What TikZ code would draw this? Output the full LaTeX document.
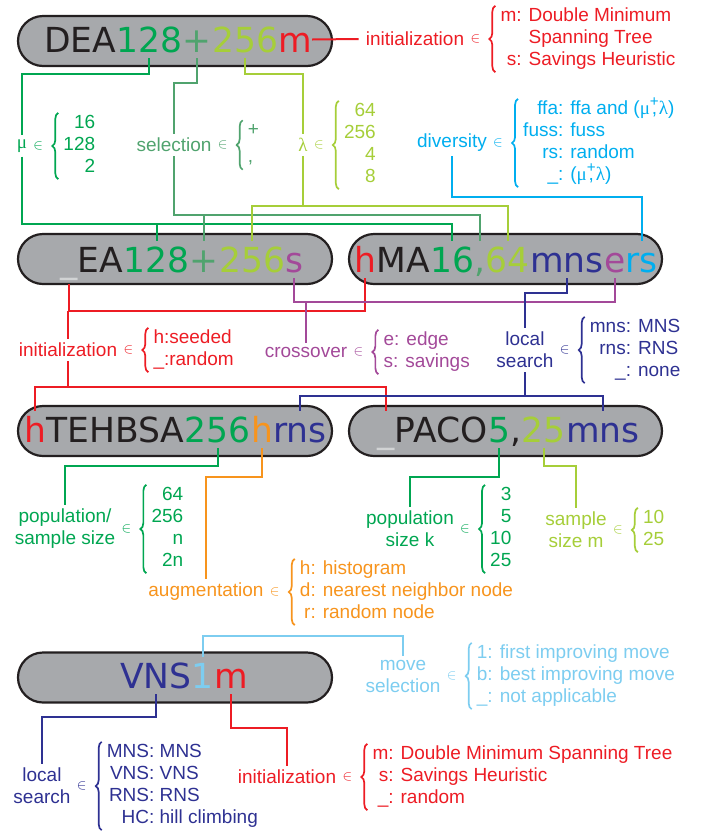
\documentclass[tikz,border=0pt]{standalone}
\usepackage{fontspec}
\usepackage{graphicx}
\usetikzlibrary{decorations.pathreplacing}
\setmainfont{Liberation Sans}
\newfontfamily\boxfont{DejaVu Sans}
\newfontfamily\grk{Liberation Serif}
\newcommand\bfont{\boxfont\fontsize{34.5}{40}\selectfont}
\newcommand\lfont{\fontsize{19}{22}\selectfont}
\newcommand\pcm{\ooalign{\hfil,\hfil\cr\hfil\raisebox{0.42em}{\scalebox{0.8}{+}}\hfil\cr}}
% #1 word node name, #2 colour, #3 column spec, #4 rows
\newcommand\opts[4]{%
  \node[inn, #2] (#1in) at ([xshift=4pt]#1.east) {$\in$};
  \node[items, #2] (#1it) at ([xshift=20pt]#1in.east) {\begin{tabular}{@{}#3@{}}#4\end{tabular}};
  \draw[br, #2] ([xshift=-5pt]#1it.south west) -- ([xshift=-5pt]#1it.north west);}
\definecolor{ink}{RGB}{35,31,32}
\definecolor{cG}{RGB}{0,166,81}
\definecolor{cT}{RGB}{80,163,110}
\definecolor{cL}{RGB}{166,206,57}
\definecolor{cR}{RGB}{237,28,36}
\definecolor{cP}{RGB}{163,73,153}
\definecolor{cN}{RGB}{46,49,146}
\definecolor{cC}{RGB}{0,174,239}
\definecolor{cO}{RGB}{247,148,29}
\definecolor{cB}{RGB}{125,205,240}
\definecolor{ulc}{RGB}{209,211,212}
\definecolor{boxfill}{RGB}{167,169,172}
\begin{document}
\begin{tikzpicture}[x=1pt,y=-1pt,
  capsule/.style={draw=ink, fill=boxfill, line width=2.2pt, rounded corners=25pt,
    minimum width=314pt, minimum height=50pt, inner sep=0pt},
  seg/.style={anchor=base west, inner sep=0pt, text height=25pt, text depth=0pt, font=\bfont},
  lab/.style={font=\lfont, inner xsep=2pt, inner ysep=4pt, align=center},
  inn/.style={anchor=west, inner sep=0pt, font=\fontsize{15}{15}\selectfont},
  items/.style={anchor=west, inner sep=0pt, font=\lfont},
  br/.style={decorate, decoration={brace, amplitude=6pt}, line width=1.7pt},
  cn/.style={line width=2pt}]
\useasboundingbox (0,0) rectangle (709,831);

% boxes
\node[capsule] (b1) at (175,41) {};
\node[capsule] (b2) at (175,259) {};
\node[capsule, minimum width=313pt] (b3) at (505.5,259) {};
\node[capsule] (b4) at (175,431) {};
\node[capsule, minimum width=313pt] (b5) at (505.5,431) {};
\node[capsule] (b6) at (175,677.5) {};

% row 1 text
\node[seg, ink] (dD) at (44,52) {DEA};
\node[seg, cG] (d128) at (dD.base east) {128};
\node[seg, cT] (dplus) at (d128.base east) {+};
\node[seg, cL] (d256) at (dplus.base east) {256};
\node[seg, cR] (dm) at (d256.base east) {m};

% row 2 text
\node[seg, ulc] (eus) at (60,272) {\_};
\node[seg, ink] (eEA) at (eus.base east) {EA};
\node[seg, cG] (e128) at (eEA.base east) {128};
\node[seg, cT] (eplus) at (e128.base east) {+};
\node[seg, cL] (e256) at (eplus.base east) {256};
\node[seg, cP] (es) at (e256.base east) {s};

\node[seg, cR] (hh) at (354,272) {h};
\node[seg, ink] (hMA) at (hh.base east) {MA};
\node[seg, cG] (h16) at (hMA.base east) {16};
\node[seg, cT] (hcomma) at (h16.base east) {,};
\node[seg, cL] (h64) at (hcomma.base east) {64};
\node[seg, cN] (hmns) at (h64.base east) {mns};
\node[seg, cP] (he) at (hmns.base east) {e};
\node[seg, cC] (hrs) at (he.base east) {rs};

% row 3 text
\node[seg, cR] (th) at (24,442) {h};
\node[seg, ink] (tTE) at (th.base east) {TEHBSA};
\node[seg, cG] (t256) at (tTE.base east) {256};
\node[seg, cO] (th2) at (t256.base east) {h};
\node[seg, cN] (trns) at (th2.base east) {rns};

\node[seg, ulc] (pus) at (377,442) {\_};
\node[seg, ink] (pP) at (pus.base east) {PACO};
\node[seg, cG] (p5) at (pP.base east) {5};
\node[seg, ink] (pc) at (p5.base east) {,};
\node[seg, cL] (p25) at (pc.base east) {25};
\node[seg, cN] (pmns) at (p25.base east) {mns};

% row 4 text
\node[seg, cN] (vvns) at (120,688) {VNS};
\node[seg, cB] (v1) at (vvns.base east) {1};
\node[seg, cR] (vm) at (v1.base east) {m};

% labels, top
\node[lab, cR] (initA) at (415,39) {initialization};
\opts{initA}{cR}{r@{ }l}{m:&Double Minimum\\&Spanning Tree\\s:&Savings Heuristic}
\node[lab, cG] (mu) at (22,146) {{\grk μ}};
\opts{mu}{cG}{r}{16\\128\\2}
\node[lab, cT] (sel) at (174,145) {selection};
\opts{sel}{cT}{l}{+\\[5pt],}
\node[lab, cL] (lam) at (303,145) {{\grk λ}};
\opts{lam}{cL}{r}{64\\256\\4\\8}
\node[lab, cC] (div) at (452,143) {diversity};
\opts{div}{cC}{r@{ }l}{ffa:&ffa and ({\grk μ}\pcm{\grk λ})\\fuss:&fuss\\rs:&random\\\_:&({\grk μ}\pcm{\grk λ})}

% labels, middle
\node[lab, cR] (initB) at (68,350) {initialization};
\opts{initB}{cR}{l}{h:seeded\\\_:random}
\node[lab, cP] (cross) at (306,352) {crossover};
\opts{cross}{cP}{l}{e: edge\\s: savings}
\node[lab, cN] (ls) at (525,350) {local\\search};
\opts{ls}{cN}{r@{ }l}{mns:&MNS\\rns:&RNS\\\_:&none}

% labels, row 3
\node[lab, cG] (pop) at (65,529) {population/\\sample size};
\opts{pop}{cG}{r}{64\\256\\n\\2n}
\node[lab, cO] (aug) at (206,592) {augmentation};
\opts{aug}{cO}{r@{ }l}{h:&histogram\\d:&nearest neighbor node\\r:&random node}
\node[lab, cG] (popk) at (410,529) {population\\size k};
\opts{popk}{cG}{r}{3\\5\\10\\25}
\node[lab, cL] (samp) at (576,530) {sample\\size m};
\opts{samp}{cL}{r}{10\\25}

% labels, row 4
\node[lab, cB] (mv) at (403,676) {move\\selection};
\opts{mv}{cB}{r@{ }l}{1:&first improving move\\b:&best improving move\\\_:&not applicable}
\node[lab, cN] (lsb) at (42,786) {local\\search};
\opts{lsb}{cN}{r@{ }l}{MNS:&MNS\\VNS:&VNS\\RNS:&RNS\\HC:&hill climbing}
\node[lab, cR] (initC) at (287,777) {initialization};
\opts{initC}{cR}{r@{ }l}{m:&Double Minimum Spanning Tree\\s:&Savings Heuristic\\\_:&random}

% connectors, top
\draw[cn, cR] (dm.east) -- ([xshift=-5pt]initA.west);
\draw[cn, cG] ([yshift=-6pt]d128.south) |- (mu.north |- 0,74) -- (mu.north);
\draw[cn, cG] (mu.south) |- (h16.north |- 0,224) -- ([yshift=6pt]h16.north);
\draw[cn, cG] (e128.north |- 0,224) -- ([yshift=6pt]e128.north);
\draw[cn, cT] ([yshift=-6pt]dplus.south) |- (sel.north |- 0,83) -- (sel.north);
\draw[cn, cT] (sel.south) |- (hcomma.north |- 0,215) -- ([yshift=6pt]hcomma.north);
\draw[cn, cT] (eplus.north |- 0,215) -- ([yshift=6pt]eplus.north);
\draw[cn, cL] ([yshift=-6pt]d256.south) |- (lam.north |- 0,74) -- (lam.north);
\draw[cn, cL] (lam.south) -- (lam.south |- 0,206);
\draw[cn, cL] ([yshift=6pt]e256.north) -- (e256.north |- 0,206) -| ([yshift=6pt]h64.north);
\draw[cn, cC] (div.south) |- (hrs.north |- 0,197) -- ([yshift=6pt]hrs.north);

% connectors, middle
\draw[cn, cR] ([yshift=-12pt]eus.south) |- (hh.south |- 0,311) -- ([yshift=-6pt]hh.south);
\draw[cn, cR] (initB.north |- 0,311) -- (initB.north);
\draw[cn, cR] (initB.south) -- (initB.south |- 0,387);
\draw[cn, cR] ([yshift=6pt]th.north) |- (pus.north |- 0,387) -- ([yshift=6pt]pus.north);
\draw[cn, cP] ([yshift=-6pt]es.south) |- (he.south |- 0,302) -- ([yshift=-6pt]he.south);
\draw[cn, cP] (cross.north |- 0,302) -- (cross.north);
\draw[cn, cN] ([yshift=-6pt]hmns.south) |- (ls.north |- 0,293) -- (ls.north);
\draw[cn, cN] (ls.south) -- (ls.south |- 0,396);
\draw[cn, cN] ([yshift=6pt]trns.north) |- (pmns.north |- 0,396) -- ([yshift=6pt]pmns.north);

% connectors, row 3
\draw[cn, cG] ([yshift=-6pt]t256.south) |- (pop.north |- 0,466) -- (pop.north);
\draw[cn, cO] ([yshift=-6pt]th2.south) |- (aug.north |- 0,477) -- (aug.north);
\draw[cn, cG] ([yshift=-6pt]p5.south) |- (popk.north |- 0,477) -- (popk.north);
\draw[cn, cL] ([yshift=-6pt]p25.south) |- (samp.north |- 0,466) -- (samp.north);

% connectors, row 4
\draw[cn, cB] ([yshift=6pt]v1.north) |- (mv.north |- 0,636) -- (mv.north);
\draw[cn, cN] ([yshift=-6pt]vvns.south) |- (lsb.north |- 0,717) -- (lsb.north);
\draw[cn, cR] ([yshift=-6pt]vm.south) |- (initC.north |- 0,728) -- (initC.north);
\end{tikzpicture}
\end{document}
